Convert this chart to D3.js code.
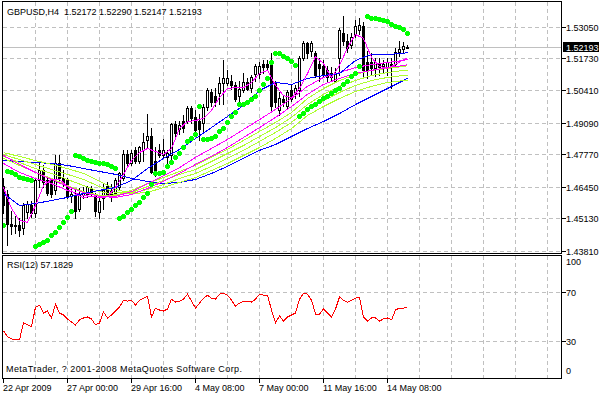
<!DOCTYPE html>
<html>
<head>
<meta charset="utf-8">
<script src="https://cdn.jsdelivr.net/npm/d3@7"></script>
<style>
  body { margin: 0; background: #fff; }
  svg { display: block; font-family: "Liberation Sans", Arial, sans-serif; font-size: 9px; }
</style>
</head>
<body>
<svg id="chart" width="599" height="395"></svg>
<script>
// GBPUSD H4, 102 bars (22 Apr 2009 08:00 .. 15 May 04:00)
const open = [1.4649, 1.4616, 1.4492, 1.4480, 1.4488, 1.4472, 1.4538, 1.4567, 1.4534, 1.4670,
  1.4711, 1.4670, 1.4670, 1.4629, 1.4744, 1.4678, 1.4670, 1.4604, 1.4608, 1.4554,
  1.4608, 1.4616, 1.4637, 1.4604, 1.4538, 1.4596, 1.4649, 1.4629, 1.4620, 1.4641,
  1.4682, 1.4781, 1.4744, 1.4794, 1.4752, 1.4794, 1.4835, 1.4855, 1.4752, 1.4794,
  1.4773, 1.4765, 1.4773, 1.4901, 1.4884, 1.4917, 1.4917, 1.4967, 1.4930, 1.4917,
  1.4909, 1.4971, 1.5033, 1.5020, 1.5029, 1.5070, 1.5070, 1.5082, 1.5062, 1.5020,
  1.5041, 1.5074, 1.5053, 1.5111, 1.5111, 1.5152, 1.5152, 1.5157, 1.5070, 1.4959,
  1.5008, 1.4979, 1.5041, 1.5029, 1.5041, 1.5177, 1.5235, 1.5206, 1.5194, 1.5152,
  1.5144, 1.5124, 1.5115, 1.5082, 1.5177, 1.5280, 1.5247, 1.5227, 1.5268, 1.5289,
  1.5309, 1.5157, 1.5157, 1.5132, 1.5152, 1.5140, 1.5136, 1.5152, 1.5152, 1.5198,
  1.5214, 1.52172];
const high = [1.4678, 1.4629, 1.4546, 1.4525, 1.4517, 1.4575, 1.4587, 1.4587, 1.4682, 1.4744,
  1.4732, 1.4690, 1.4682, 1.4773, 1.4773, 1.4711, 1.4682, 1.4637, 1.4629, 1.4637,
  1.4641, 1.4649, 1.4649, 1.4620, 1.4596, 1.4657, 1.4662, 1.4657, 1.4682, 1.4703,
  1.4794, 1.4794, 1.4794, 1.4806, 1.4814, 1.4864, 1.4946, 1.4888, 1.4806, 1.4822,
  1.4843, 1.4794, 1.4909, 1.4917, 1.4917, 1.4938, 1.4979, 1.4979, 1.4959, 1.4946,
  1.4987, 1.5053, 1.5049, 1.5053, 1.5095, 1.5165, 1.5124, 1.5103, 1.5074, 1.5082,
  1.5115, 1.5091, 1.5103, 1.5152, 1.5157, 1.5165, 1.5165, 1.5194, 1.5082, 1.5033,
  1.5020, 1.5041, 1.5062, 1.5062, 1.5185, 1.5247, 1.5243, 1.5247, 1.5206, 1.5177,
  1.5165, 1.5144, 1.5136, 1.5132, 1.5297, 1.5350, 1.5276, 1.5280, 1.5330, 1.5338,
  1.5322, 1.5206, 1.5194, 1.5173, 1.5173, 1.5165, 1.5173, 1.5177, 1.5218, 1.5247,
  1.5239, 1.52290];
const low = [1.4534, 1.4402, 1.4451, 1.4455, 1.4439, 1.4447, 1.4513, 1.4521, 1.4521, 1.4645,
  1.4641, 1.4608, 1.4600, 1.4616, 1.4662, 1.4649, 1.4596, 1.4579, 1.4513, 1.4546,
  1.4596, 1.4600, 1.4604, 1.4525, 1.4513, 1.4554, 1.4604, 1.4587, 1.4600, 1.4629,
  1.4670, 1.4732, 1.4732, 1.4744, 1.4740, 1.4752, 1.4802, 1.4699, 1.4690, 1.4765,
  1.4765, 1.4744, 1.4744, 1.4855, 1.4860, 1.4868, 1.4905, 1.4909, 1.4855, 1.4835,
  1.4868, 1.4959, 1.4979, 1.4979, 1.4987, 1.4987, 1.5062, 1.5049, 1.4999, 1.4987,
  1.5033, 1.5041, 1.5033, 1.5082, 1.5091, 1.5115, 1.5124, 1.4959, 1.4971, 1.4938,
  1.4979, 1.4967, 1.4999, 1.5012, 1.5020, 1.5165, 1.5173, 1.5185, 1.5095, 1.5082,
  1.5095, 1.5074, 1.5082, 1.5074, 1.5103, 1.5227, 1.5198, 1.5218, 1.5260, 1.5276,
  1.5091, 1.5091, 1.5103, 1.5099, 1.5103, 1.5115, 1.5103, 1.5053, 1.5140, 1.5185,
  1.5194, 1.52147];
const close = [1.4567, 1.4492, 1.4484, 1.4488, 1.4464, 1.4567, 1.4571, 1.4534, 1.4670, 1.4711,
  1.4662, 1.4620, 1.4616, 1.4744, 1.4678, 1.4657, 1.4604, 1.4616, 1.4546, 1.4608,
  1.4620, 1.4641, 1.4620, 1.4546, 1.4587, 1.4629, 1.4616, 1.4600, 1.4670, 1.4699,
  1.4781, 1.4744, 1.4785, 1.4752, 1.4806, 1.4827, 1.4855, 1.4703, 1.4703, 1.4773,
  1.4794, 1.4785, 1.4901, 1.4864, 1.4897, 1.4888, 1.4967, 1.4926, 1.4876, 1.4884,
  1.4971, 1.5041, 1.4992, 1.4992, 1.5070, 1.5091, 1.5091, 1.5062, 1.5008, 1.5049,
  1.5074, 1.5049, 1.5095, 1.5144, 1.5144, 1.5136, 1.5136, 1.4979, 1.4992, 1.5012,
  1.4992, 1.5033, 1.5008, 1.5053, 1.5173, 1.5235, 1.5194, 1.5235, 1.5103, 1.5132,
  1.5111, 1.5095, 1.5095, 1.5115, 1.5289, 1.5247, 1.5218, 1.5260, 1.5309, 1.5313,
  1.5124, 1.5124, 1.5132, 1.5157, 1.5136, 1.5152, 1.5157, 1.5144, 1.5198, 1.5214,
  1.5223, 1.52193];

// parabolic SAR, one value per bar (null = no dot)
const sar = [1.4488, 1.4707, 1.4703, 1.4695, 1.4686, 1.4682, 1.4674, 1.4670, 1.4398, 1.4406,
  1.4414, 1.4426, 1.4443, 1.4459, 1.4476, 1.4497, 1.4521, 1.4542, 1.4773, 1.4769,
  1.4761, 1.4756, 1.4752, 1.4748, 1.4744, 1.4740, 1.4736, 1.4728, 1.4723, 1.4517,
  1.4525, 1.4538, 1.4554, 1.4567, 1.4583, 1.4600, 1.4620, 1.4657, 1.4699, 1.4699,
  1.4703, 1.4728, 1.4748, 1.4765, 1.4785, 1.4806, 1.4831, 1.4847, 1.4860, 1.4979,
  1.4839, 1.4839, 1.4847, 1.4855, 1.4872, 1.4888, 1.4913, 1.4934, 1.4954, 1.4987,
  1.4987, 1.4992, 1.5008, 1.5020, 1.5041, 1.5066, 1.5091, 1.5157, 1.5194, 1.5194,
  1.5185, 1.5173, 1.5161, 1.5148, 1.4934, 1.4950, 1.4963, 1.4975, 1.4987, 1.4999,
  1.5012, 1.5020, 1.5029, 1.5041, 1.5053, 1.5066, 1.5082, 1.5099, 1.5115, 1.5140,
  null, 1.5350, 1.5342, 1.5338, 1.5334, 1.5330, 1.5326, 1.5317, 1.5309, 1.5301,
  1.5293, 1.5280];

// moving averages read every 4 bars
const maBars = [0, 4, 8, 12, 16, 20, 24, 28, 32, 36, 40, 44, 48, 52, 56, 60, 64, 68, 72, 76, 80, 84, 88, 92, 96, 100, 101];
const blueSlow = [1.4752, 1.4748, 1.4744, 1.4740, 1.4732, 1.4719, 1.4707, 1.4695, 1.4678, 1.4666, 1.4657, 1.4662, 1.4674, 1.4699, 1.4728, 1.4761, 1.4794, 1.4818, 1.4851, 1.4884, 1.4913, 1.4946, 1.4983, 1.5016, 1.5049, 1.5082, 1.5091];
const blueMid = [1.4616, 1.4567, 1.4575, 1.4587, 1.4600, 1.4616, 1.4629, 1.4641, 1.4670, 1.4719, 1.4761, 1.4798, 1.4843, 1.4888, 1.4934, 1.4979, 1.5041, 1.5074, 1.5066, 1.5091, 1.5103, 1.5111, 1.5165, 1.5190, 1.5190, 1.5194, 1.5198];
const magMid1 = [1.4740, 1.4703, 1.4678, 1.4657, 1.4629, 1.4608, 1.4600, 1.4604, 1.4624, 1.4657, 1.4690, 1.4723, 1.4765, 1.4802, 1.4839, 1.4880, 1.4921, 1.4963, 1.5008, 1.5058, 1.5095, 1.5115, 1.5136, 1.5148, 1.5157, 1.5165, 1.5169];
const magMid2 = [1.4773, 1.4736, 1.4703, 1.4674, 1.4645, 1.4620, 1.4604, 1.4600, 1.4612, 1.4637, 1.4666, 1.4699, 1.4736, 1.4769, 1.4806, 1.4847, 1.4888, 1.4930, 1.4975, 1.5025, 1.5066, 1.5091, 1.5111, 1.5124, 1.5136, 1.5144, 1.5148];
const green1 = [1.4761, 1.4732, 1.4703, 1.4678, 1.4649, 1.4624, 1.4608, 1.4608, 1.4629, 1.4657, 1.4682, 1.4707, 1.4732, 1.4765, 1.4798, 1.4835, 1.4872, 1.4909, 1.4950, 1.5008, 1.5049, 1.5082, 1.5107, 1.5124, 1.5132, 1.5140, 1.5144];
const green2 = [1.4769, 1.4744, 1.4719, 1.4699, 1.4674, 1.4649, 1.4624, 1.4612, 1.4620, 1.4645, 1.4670, 1.4695, 1.4715, 1.4748, 1.4781, 1.4814, 1.4851, 1.4888, 1.4930, 1.4983, 1.5025, 1.5058, 1.5082, 1.5103, 1.5115, 1.5124, 1.5124];
const green3 = [1.4777, 1.4756, 1.4736, 1.4715, 1.4695, 1.4674, 1.4645, 1.4620, 1.4616, 1.4633, 1.4653, 1.4678, 1.4699, 1.4728, 1.4761, 1.4794, 1.4831, 1.4868, 1.4909, 1.4963, 1.4999, 1.5033, 1.5062, 1.5082, 1.5095, 1.5103, 1.5103];
const green4 = [1.4785, 1.4769, 1.4752, 1.4736, 1.4719, 1.4699, 1.4666, 1.4633, 1.4616, 1.4620, 1.4641, 1.4662, 1.4682, 1.4711, 1.4740, 1.4773, 1.4806, 1.4843, 1.4884, 1.4938, 1.4975, 1.5008, 1.5037, 1.5058, 1.5074, 1.5082, 1.5082];

// fast magenta MA read every 2 bars
const fastBars = [0, 2, 4, 6, 8, 10, 12, 14, 16, 18, 20, 22, 24, 26, 28, 30, 32, 34, 36, 38, 40, 42, 44, 46, 48, 50,
  52, 54, 56, 58, 60, 62, 64, 66, 68, 70, 72, 74, 76, 78, 80, 82, 84, 86, 88, 90, 92, 94, 96, 98, 100, 101];
const magFast = [1.4641, 1.4554, 1.4505, 1.4497, 1.4567, 1.4649, 1.4674, 1.4674, 1.4645, 1.4612,
  1.4600, 1.4604, 1.4600, 1.4604, 1.4641, 1.4695, 1.4752, 1.4785, 1.4802, 1.4789,
  1.4777, 1.4802, 1.4884, 1.4913, 1.4917, 1.4926, 1.4959, 1.5012, 1.5049, 1.5053,
  1.5053, 1.5074, 1.5111, 1.5124, 1.5062, 1.5020, 1.5012, 1.5049, 1.5111, 1.5181,
  1.5152, 1.5095, 1.5144, 1.5218, 1.5272, 1.5256, 1.5177, 1.5140, 1.5132, 1.5148,
  1.5169, 1.5173];

// RSI(12), one value per bar
const rsi = [38.2, 33.3, 31.7, 30.9, 30.9, 44.7, 43.1, 41.5, 57.7, 59.3,
  52.8, 54.5, 48.8, 60.2, 52.8, 51.2, 48.0, 45.5, 43.1, 47.2,
  48.8, 49.6, 48.0, 43.1, 44.7, 53.7, 48.8, 51.2, 54.5, 57.7,
  63.4, 62.6, 63.4, 59.3, 63.4, 65.0, 66.7, 49.6, 56.9, 55.3,
  54.5, 56.1, 64.2, 61.8, 62.6, 64.2, 68.3, 62.6, 56.9, 61.0,
  65.0, 67.5, 65.0, 64.2, 68.3, 69.1, 67.5, 63.4, 58.5, 61.0,
  62.6, 62.6, 61.8, 64.2, 68.3, 67.5, 67.5, 55.3, 44.7, 50.4,
  46.3, 49.6, 51.2, 52.8, 64.2, 69.1, 68.3, 63.4, 52.0, 52.0,
  56.1, 52.8, 49.6, 56.1, 65.9, 63.4, 61.8, 63.4, 65.0, 65.9,
  49.6, 46.3, 48.8, 48.8, 46.3, 48.0, 48.8, 47.2, 55.3, 56.9,
  56.9, 57.1829];

const priceTicks = [1.53050, 1.51730, 1.50410, 1.49090, 1.47770, 1.46450, 1.45130, 1.43810];
const rsiLevels = [70, 30];
const timeBars = [0, 16, 32, 48, 64, 80, 96];
const timeLabels = ["22 Apr 2009", "27 Apr 00:00", "29 Apr 16:00", "4 May 08:00", "7 May 00:00", "11 May 16:00", "14 May 08:00"];
const gridBars = [8, 16, 24, 32, 40, 48, 56, 64, 72, 80, 88, 96, 104, 112, 120, 128, 136];
const lastPrice = 1.52193;

const svg = d3.select('#chart');
const L = 2.5, R = 561.5, mainTop = 1.5, mainBottom = 253.5, rsiTop = 255.5, rsiBottom = 378.5;

const x = d3.scaleLinear().domain([0, 101]).range([3.5, 407.5]);
const y = d3.scaleLinear().domain([1.4381, 1.5305]).range([250.5, 26.5]);
const yr = d3.scaleLinear().domain([0, 100]).range([377.5, 255.5]);

svg.append('rect').attr('width', 599).attr('height', 395).attr('fill', '#fff');

const defs = svg.append('defs');
defs.append('clipPath').attr('id', 'clipMain')
  .append('rect').attr('x', L).attr('y', mainTop).attr('width', R - L).attr('height', mainBottom - mainTop);
defs.append('clipPath').attr('id', 'clipRsi')
  .append('rect').attr('x', L).attr('y', rsiTop).attr('width', R - L).attr('height', rsiBottom - rsiTop);

// grid
const grid = svg.append('g').attr('stroke', '#c0c0c0').attr('stroke-dasharray', '4,3')
  .attr('shape-rendering', 'crispEdges');
grid.selectAll('.hg').data(priceTicks).join('line')
  .attr('x1', L).attr('x2', R)
  .attr('y1', d => Math.round(y(d)) + 0.5).attr('y2', d => Math.round(y(d)) + 0.5);
grid.selectAll('.vg').data(gridBars).join('line')
  .attr('x1', d => x(d)).attr('x2', d => x(d))
  .attr('y1', mainTop).attr('y2', mainBottom);
grid.selectAll('.rg').data(rsiLevels).join('line')
  .attr('x1', L).attr('x2', R)
  .attr('y1', d => Math.round(yr(d)) + 0.5).attr('y2', d => Math.round(yr(d)) + 0.5);
grid.selectAll('.rvg').data(gridBars).join('line')
  .attr('x1', d => x(d)).attr('x2', d => x(d))
  .attr('y1', rsiTop).attr('y2', rsiBottom);

// last price line
svg.append('line')
  .attr('x1', L).attr('x2', R)
  .attr('y1', Math.round(y(lastPrice)) + 0.5).attr('y2', Math.round(y(lastPrice)) + 0.5)
  .attr('stroke', '#c0c0c0').attr('shape-rendering', 'crispEdges');

// candles
const bars = d3.range(open.length).map(i => ({i, o: open[i], h: high[i], l: low[i], c: close[i]}));
const main = svg.append('g').attr('clip-path', 'url(#clipMain)');
const candles = main.append('g').attr('shape-rendering', 'crispEdges');
candles.selectAll('line').data(bars).join('line')
  .attr('x1', d => x(d.i)).attr('x2', d => x(d.i))
  .attr('y1', d => Math.round(y(d.h))).attr('y2', d => Math.round(y(d.l)) + 1)
  .attr('stroke', '#000');
candles.selectAll('rect').data(bars).join('rect')
  .attr('x', d => x(d.i) - 1)
  .attr('width', 2)
  .attr('y', d => Math.round(y(Math.max(d.o, d.c))) + 0.5)
  .attr('height', d => Math.abs(Math.round(y(d.o)) - Math.round(y(d.c))))
  .attr('fill', d => d.c >= d.o ? '#fff' : '#000')
  .attr('stroke', '#000');

// moving averages
function maLine(idx, vals, color) {
  const line = d3.line().x((d, k) => x(idx[k])).y(d => y(d));
  main.append('path').datum(vals)
    .attr('d', line)
    .attr('fill', 'none').attr('stroke', color).attr('stroke-width', 1)
    .attr('shape-rendering', 'crispEdges');
}
maLine(maBars, blueSlow, '#0000ff');
maLine(maBars, green4, '#adff2f');
maLine(maBars, green3, '#adff2f');
maLine(maBars, green2, '#adff2f');
maLine(maBars, green1, '#adff2f');
maLine(maBars, magMid2, '#ff00ff');
maLine(maBars, magMid1, '#ff00ff');
maLine(maBars, blueMid, '#0000ff');
maLine(fastBars, magFast, '#ff00ff');

// parabolic SAR
main.append('g').selectAll('circle')
  .data(sar.map((v, i) => ({i, v})).filter(d => d.v !== null))
  .join('circle')
  .attr('cx', d => x(d.i)).attr('cy', d => Math.round(y(d.v)) + 0.5)
  .attr('r', 2.4)
  .attr('fill', '#00ff00')
  .attr('shape-rendering', 'crispEdges');

// RSI
const rsiLine = d3.line().x((d, i) => x(i)).y(d => yr(d));
svg.append('g').attr('clip-path', 'url(#clipRsi)')
  .append('path').datum(rsi)
  .attr('d', rsiLine)
  .attr('fill', 'none').attr('stroke', '#ff0000').attr('stroke-width', 1)
  .attr('shape-rendering', 'crispEdges');

// frames
const frames = svg.append('g').attr('fill', 'none').attr('stroke', '#000').attr('shape-rendering', 'crispEdges');
frames.append('rect').attr('x', L).attr('y', mainTop).attr('width', R - L).attr('height', mainBottom - mainTop);
frames.append('rect').attr('x', L).attr('y', rsiTop).attr('width', R - L).attr('height', rsiBottom - rsiTop);

// price axis
const pAxis = svg.append('g');
pAxis.selectAll('line').data(priceTicks).join('line')
  .attr('x1', R).attr('x2', R + 4)
  .attr('y1', d => Math.round(y(d)) + 0.5).attr('y2', d => Math.round(y(d)) + 0.5)
  .attr('stroke', '#000').attr('shape-rendering', 'crispEdges');
pAxis.selectAll('text').data(priceTicks).join('text')
  .attr('x', 566).attr('y', d => Math.round(y(d)) + 4)
  .text(d => d.toFixed(5));

// current price box
svg.append('rect')
  .attr('x', 563).attr('y', Math.round(y(lastPrice)) - 5)
  .attr('width', 36).attr('height', 10).attr('fill', '#000');
svg.append('text')
  .attr('x', 566).attr('y', Math.round(y(lastPrice)) + 4)
  .attr('fill', '#fff').text(lastPrice.toFixed(5));

// RSI axis
const rAxis = svg.append('g');
rAxis.selectAll('line').data(rsiLevels).join('line')
  .attr('x1', R).attr('x2', R + 4)
  .attr('y1', d => Math.round(yr(d)) + 0.5).attr('y2', d => Math.round(yr(d)) + 0.5)
  .attr('stroke', '#000').attr('shape-rendering', 'crispEdges');
rAxis.selectAll('text').data([100, 70, 30, 0]).join('text')
  .attr('x', 566)
  .attr('y', d => d === 100 ? yr(d) + 9.5 : d === 0 ? yr(d) - 3.5 : Math.round(yr(d)) + 4)
  .text(d => d);

// time axis
const tAxis = svg.append('g');
tAxis.selectAll('line').data(timeBars).join('line')
  .attr('x1', d => x(d)).attr('x2', d => x(d))
  .attr('y1', rsiBottom).attr('y2', rsiBottom + 4)
  .attr('stroke', '#000').attr('shape-rendering', 'crispEdges');
tAxis.selectAll('text').data(timeBars).join('text')
  .attr('x', d => x(d) - 0.5).attr('y', 391)
  .text((d, k) => timeLabels[k]);

// labels
svg.append('text').attr('x', 7).attr('y', 15).style('white-space', 'pre')
  .text('GBPUSD,H4  1.52172 1.52290 1.52147 1.52193');
svg.append('text').attr('x', 7).attr('y', 268).text('RSI(12) 57.1829');
svg.append('text').attr('x', 6).attr('y', 372)
  .attr('textLength', 236).attr('lengthAdjust', 'spacing')
  .text('MetaTrader, ? 2001-2008 MetaQuotes Software Corp.');
</script>
</body>
</html>
